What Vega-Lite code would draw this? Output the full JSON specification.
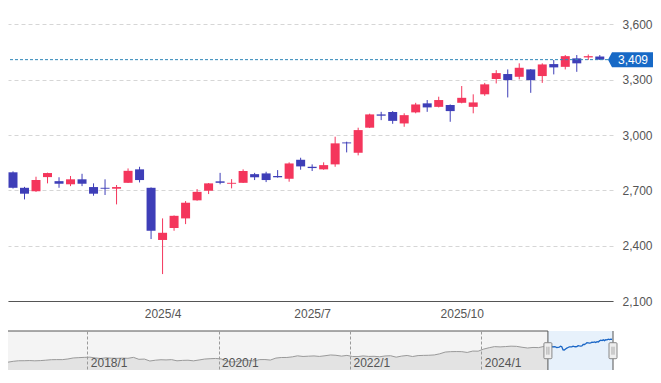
{
  "$schema": "https://vega.github.io/schema/vega-lite/v6.json",
  "padding": {"left": 7, "top": 6, "right": 0, "bottom": 0},
  "background": "white",
  "spacing": 11,
  "config": {
    "view": {"stroke": null},
    "font": "Liberation Sans",
    "axis": {"labelFont": "Liberation Sans", "labelFontSize": 12, "labelColor": "#555555", "title": null},
    "text": {"font": "Liberation Sans"}
  },
  "datasets": {
    "weekly": [
      {"date":"2025-01-06","open":2798,"high":2803,"low":2710,"close":2714},
      {"date":"2025-01-13","open":2714,"high":2719,"low":2651,"close":2682},
      {"date":"2025-01-20","open":2695,"high":2774,"low":2692,"close":2756},
      {"date":"2025-01-27","open":2772,"high":2796,"low":2738,"close":2794},
      {"date":"2025-02-03","open":2750,"high":2771,"low":2714,"close":2736},
      {"date":"2025-02-10","open":2733,"high":2778,"low":2723,"close":2760},
      {"date":"2025-02-17","open":2760,"high":2790,"low":2723,"close":2736},
      {"date":"2025-02-24","open":2718,"high":2738,"low":2671,"close":2682},
      {"date":"2025-03-03","open":2714,"high":2760,"low":2675,"close":2709},
      {"date":"2025-03-10","open":2709,"high":2729,"low":2624,"close":2718},
      {"date":"2025-03-17","open":2741,"high":2819,"low":2740,"close":2806},
      {"date":"2025-03-24","open":2814,"high":2828,"low":2743,"close":2756},
      {"date":"2025-03-31","open":2714,"high":2716,"low":2436,"close":2481},
      {"date":"2025-04-07","open":2431,"high":2548,"low":2246,"close":2470},
      {"date":"2025-04-14","open":2496,"high":2564,"low":2481,"close":2562},
      {"date":"2025-04-21","open":2548,"high":2642,"low":2517,"close":2633},
      {"date":"2025-04-28","open":2646,"high":2707,"low":2644,"close":2692},
      {"date":"2025-05-05","open":2698,"high":2740,"low":2680,"close":2738},
      {"date":"2025-05-12","open":2749,"high":2795,"low":2733,"close":2741},
      {"date":"2025-05-19","open":2736,"high":2761,"low":2711,"close":2741},
      {"date":"2025-05-26","open":2741,"high":2814,"low":2740,"close":2805},
      {"date":"2025-06-02","open":2788,"high":2795,"low":2756,"close":2771},
      {"date":"2025-06-09","open":2792,"high":2801,"low":2745,"close":2756},
      {"date":"2025-06-16","open":2778,"high":2810,"low":2769,"close":2771},
      {"date":"2025-06-23","open":2763,"high":2852,"low":2747,"close":2846},
      {"date":"2025-06-30","open":2866,"high":2877,"low":2812,"close":2830},
      {"date":"2025-07-07","open":2828,"high":2841,"low":2805,"close":2821},
      {"date":"2025-07-14","open":2814,"high":2852,"low":2812,"close":2837},
      {"date":"2025-07-21","open":2841,"high":2991,"low":2828,"close":2955},
      {"date":"2025-07-28","open":2960,"high":2964,"low":2906,"close":2955},
      {"date":"2025-08-04","open":2904,"high":3040,"low":2890,"close":3027},
      {"date":"2025-08-11","open":3040,"high":3116,"low":3038,"close":3112},
      {"date":"2025-08-18","open":3112,"high":3126,"low":3081,"close":3105},
      {"date":"2025-08-25","open":3125,"high":3130,"low":3061,"close":3077},
      {"date":"2025-09-01","open":3063,"high":3118,"low":3045,"close":3108},
      {"date":"2025-09-08","open":3123,"high":3175,"low":3118,"close":3166},
      {"date":"2025-09-15","open":3172,"high":3190,"low":3126,"close":3150},
      {"date":"2025-09-22","open":3153,"high":3208,"low":3150,"close":3190},
      {"date":"2025-09-29","open":3163,"high":3166,"low":3072,"close":3130},
      {"date":"2025-10-06","open":3175,"high":3266,"low":3172,"close":3202},
      {"date":"2025-10-13","open":3153,"high":3221,"low":3118,"close":3177},
      {"date":"2025-10-20","open":3221,"high":3283,"low":3213,"close":3275},
      {"date":"2025-10-27","open":3304,"high":3352,"low":3280,"close":3336},
      {"date":"2025-11-03","open":3331,"high":3356,"low":3204,"close":3298},
      {"date":"2025-11-10","open":3316,"high":3389,"low":3302,"close":3365},
      {"date":"2025-11-17","open":3356,"high":3358,"low":3229,"close":3298},
      {"date":"2025-11-24","open":3320,"high":3389,"low":3283,"close":3383},
      {"date":"2025-12-01","open":3385,"high":3407,"low":3329,"close":3367},
      {"date":"2025-12-08","open":3370,"high":3434,"low":3356,"close":3428},
      {"date":"2025-12-15","open":3416,"high":3434,"low":3343,"close":3389},
      {"date":"2025-12-22","open":3421,"high":3437,"low":3407,"close":3428},
      {"date":"2025-12-29","open":3426,"high":3434,"low":3408,"close":3409}
    ],
    "history": [
      {"date":"2016-10-17","close":1393},{"date":"2016-11-15","close":1469},{"date":"2016-12-15","close":1518},
      {"date":"2017-01-15","close":1521},{"date":"2017-02-15","close":1535},{"date":"2017-03-15","close":1512},
      {"date":"2017-04-15","close":1531},{"date":"2017-05-15","close":1568},{"date":"2017-06-15","close":1611},
      {"date":"2017-07-15","close":1618},{"date":"2017-08-15","close":1617},{"date":"2017-09-15","close":1675},
      {"date":"2017-10-15","close":1765},{"date":"2017-11-15","close":1792},{"date":"2017-12-15","close":1817},
      {"date":"2018-01-15","close":1836},{"date":"2018-02-15","close":1768},{"date":"2018-03-15","close":1716},
      {"date":"2018-04-15","close":1777},{"date":"2018-05-15","close":1747},{"date":"2018-06-15","close":1730},
      {"date":"2018-07-15","close":1753},{"date":"2018-08-15","close":1735},{"date":"2018-09-15","close":1817},
      {"date":"2018-10-15","close":1646},{"date":"2018-11-15","close":1667},{"date":"2018-12-15","close":1494},
      {"date":"2019-01-15","close":1567},{"date":"2019-02-15","close":1607},{"date":"2019-03-15","close":1591},
      {"date":"2019-04-15","close":1617},{"date":"2019-05-15","close":1512},{"date":"2019-06-15","close":1551},
      {"date":"2019-07-15","close":1565},{"date":"2019-08-15","close":1511},{"date":"2019-09-15","close":1587},
      {"date":"2019-10-15","close":1667},{"date":"2019-11-15","close":1699},{"date":"2019-12-15","close":1721},
      {"date":"2020-01-15","close":1684},{"date":"2020-02-15","close":1511},{"date":"2020-03-15","close":1403},
      {"date":"2020-04-15","close":1464},{"date":"2020-05-15","close":1564},{"date":"2020-06-15","close":1558},
      {"date":"2020-07-15","close":1496},{"date":"2020-08-15","close":1618},{"date":"2020-09-15","close":1625},
      {"date":"2020-10-15","close":1579},{"date":"2020-11-15","close":1754},{"date":"2020-12-15","close":1805},
      {"date":"2021-01-15","close":1808},{"date":"2021-02-15","close":1864},{"date":"2021-03-15","close":1954},
      {"date":"2021-04-15","close":1898},{"date":"2021-05-15","close":1922},{"date":"2021-06-15","close":1944},
      {"date":"2021-07-15","close":1901},{"date":"2021-08-15","close":1960},{"date":"2021-09-15","close":2030},
      {"date":"2021-10-15","close":2001},{"date":"2021-11-15","close":1928},{"date":"2021-12-15","close":1992},
      {"date":"2022-01-15","close":1896},{"date":"2022-02-15","close":1886},{"date":"2022-03-15","close":1946},
      {"date":"2022-04-15","close":1899},{"date":"2022-05-15","close":1912},{"date":"2022-06-15","close":1871},
      {"date":"2022-07-15","close":1940},{"date":"2022-08-15","close":1963},{"date":"2022-09-15","close":1835},
      {"date":"2022-10-15","close":1929},{"date":"2022-11-15","close":1985},{"date":"2022-12-15","close":1892},
      {"date":"2023-01-15","close":1975},{"date":"2023-02-15","close":1993},{"date":"2023-03-15","close":2003},
      {"date":"2023-04-15","close":2033},{"date":"2023-05-15","close":2131},{"date":"2023-06-15","close":2288},
      {"date":"2023-07-15","close":2322},{"date":"2023-08-15","close":2332},{"date":"2023-09-15","close":2323},
      {"date":"2023-10-15","close":2253},{"date":"2023-11-15","close":2374},{"date":"2023-12-15","close":2366},
      {"date":"2024-01-15","close":2551},{"date":"2024-02-15","close":2675},{"date":"2024-03-15","close":2769},
      {"date":"2024-04-15","close":2743},{"date":"2024-05-15","close":2772},{"date":"2024-06-15","close":2809},
      {"date":"2024-07-15","close":2794},{"date":"2024-08-15","close":2712},{"date":"2024-09-15","close":2645},
      {"date":"2024-10-15","close":2695},{"date":"2024-11-15","close":2680},{"date":"2024-12-15","close":2785},
      {"date":"2025-01-06","close":2714}
    ],
    "price": [{"date":"2026-01-03","price":3409}],
    "handles": [{"date":"2025-01-06","pos":2407},{"date":"2026-01-03","pos":2407}]
  },
  "vconcat": [
    {
      "width": 605,
      "height": 295,
      "layer": [
        {
          "data": {"name": "weekly"},
          "mark": {"type": "rule", "clip": true, "strokeWidth": 1},
          "encoding": {
            "x": {
              "field": "date", "type": "temporal",
              "scale": {"type": "utc", "domain": [{"year": 2025, "month": 1, "date": 6, "utc": true}, {"year": 2026, "month": 1, "date": 3, "utc": true}]},
              "axis": {
                "values": [{"year": 2025, "month": 4, "date": 7, "utc": true}, {"year": 2025, "month": 7, "date": 7, "utc": true}, {"year": 2025, "month": 10, "date": 6, "utc": true}],
                "format": "%Y/%-m", "grid": false, "ticks": false, "tickSize": 0,
                "domainColor": "#555555", "domainWidth": 1, "labelPadding": 7, "labelFlush": false
              }
            },
            "y": {
              "field": "low", "type": "quantitative",
              "scale": {"domain": [2100, 3700], "zero": false, "nice": false},
              "axis": {
                "orient": "right", "values": [2100, 2400, 2700, 3000, 3300, 3600], "format": ",d",
                "grid": true, "gridDash": [4, 3], "gridColor": "#d6d6d6", "domain": false, "ticks": false,
                "labelPadding": 9
              }
            },
            "y2": {"field": "high"},
            "color": {"condition": {"test": "datum.close >= datum.open", "value": "#f4365c"}, "value": "#3e3eb8"}
          }
        },
        {
          "data": {"name": "weekly"},
          "mark": {"type": "bar", "clip": true, "size": 9},
          "encoding": {
            "x": {"field": "date", "type": "temporal"},
            "y": {"field": "open", "type": "quantitative"},
            "y2": {"field": "close"},
            "color": {"condition": {"test": "datum.close >= datum.open", "value": "#f4365c"}, "value": "#3e3eb8"}
          }
        },
        {
          "data": {"name": "price"},
          "mark": {"type": "rule", "strokeDash": [3, 2], "color": "#2f86b8", "strokeWidth": 1},
          "encoding": {"y": {"field": "price", "type": "quantitative"}}
        },
        {
          "data": {"name": "price"},
          "mark": {"type": "point", "shape": "M 0 0 L 4 -7.5 L 45 -7.5 L 45 7.5 L 4 7.5 Z", "size": 4, "filled": true, "color": "#1769c6", "opacity": 1},
          "encoding": {
            "x": {"field": "date", "type": "temporal"},
            "y": {"field": "price", "type": "quantitative"}
          }
        },
        {
          "data": {"name": "price"},
          "mark": {"type": "text", "color": "white", "align": "left", "baseline": "middle", "dx": 10, "fontSize": 12},
          "encoding": {
            "x": {"field": "date", "type": "temporal"},
            "y": {"field": "price", "type": "quantitative"},
            "text": {"field": "price", "type": "quantitative", "format": ",d"}
          }
        }
      ]
    },
    {
      "width": 605,
      "height": 39,
      "layer": [
        {
          "data": {"values": [{"start": "2016-10-17", "end": "2025-01-06"}]},
          "mark": {"type": "rect", "color": "#f4f4f4"},
          "encoding": {
            "x": {
              "field": "start", "type": "temporal",
              "scale": {"type": "utc", "domain": [{"year": 2016, "month": 10, "date": 17, "utc": true}, {"year": 2026, "month": 1, "date": 3, "utc": true}]},
              "axis": {
                "values": [{"year": 2018, "month": 1, "date": 1, "utc": true}, {"year": 2020, "month": 1, "date": 1, "utc": true}, {"year": 2022, "month": 1, "date": 1, "utc": true}, {"year": 2024, "month": 1, "date": 1, "utc": true}],
                "format": "%Y/%-m", "grid": true, "gridDash": [3, 2], "gridColor": "#9a9a9a", "gridWidth": 1,
                "domain": false, "ticks": false, "tickSize": 0, "labelAlign": "left", "labelOffset": 3,
                "labelBaseline": "middle", "labelPadding": -8, "labelFlush": false, "zindex": 1
              }
            },
            "x2": {"field": "end"}
          }
        },
        {
          "data": {"name": "history"},
          "mark": {"type": "area", "color": "#e3e3e3", "clip": true},
          "encoding": {
            "x": {"field": "date", "type": "temporal"},
            "y": {"field": "close", "type": "quantitative", "scale": {"domain": [700, 4150], "zero": false, "nice": false}, "axis": null},
            "y2": {"datum": 700}
          }
        },
        {
          "data": {"name": "history"},
          "mark": {"type": "line", "color": "#9a9a9a", "strokeWidth": 1, "clip": true},
          "encoding": {
            "x": {"field": "date", "type": "temporal"},
            "y": {"field": "close", "type": "quantitative"}
          }
        },
        {
          "data": {"values": [{"start": "2025-01-06", "end": "2026-01-03"}]},
          "mark": {"type": "rect", "color": "#e7f1fb"},
          "encoding": {
            "x": {"field": "start", "type": "temporal"},
            "x2": {"field": "end"}
          }
        },
        {
          "data": {"name": "weekly"},
          "mark": {"type": "line", "color": "#1a66c6", "strokeWidth": 1.3},
          "encoding": {
            "x": {"field": "date", "type": "temporal"},
            "y": {"field": "close", "type": "quantitative"}
          }
        },
        {
          "data": {"values": [{"start": "2016-10-17", "end": "2025-01-06", "top": 4150}]},
          "mark": {"type": "rule", "color": "#555555", "strokeWidth": 1},
          "encoding": {
            "x": {"field": "start", "type": "temporal"},
            "x2": {"field": "end"},
            "y": {"field": "top", "type": "quantitative"}
          }
        },
        {
          "data": {"name": "handles"},
          "mark": {"type": "rule", "color": "#555555", "strokeWidth": 1},
          "encoding": {
            "x": {"field": "date", "type": "temporal"}
          }
        },
        {
          "data": {"name": "handles"},
          "mark": {"type": "point", "shape": "M -3 -8 L 3 -8 Q 4 -8 4 -7 L 4 7 Q 4 8 3 8 L -3 8 Q -4 8 -4 7 L -4 -7 Q -4 -8 -3 -8 Z", "size": 4, "filled": true, "color": "#eeeeee", "stroke": "#888888", "strokeWidth": 1, "opacity": 1},
          "encoding": {
            "x": {"field": "date", "type": "temporal"},
            "y": {"field": "pos", "type": "quantitative"}
          }
        },
        {
          "data": {"name": "handles"},
          "mark": {"type": "point", "shape": "M -1 -4 L -1 4 M 1 -4 L 1 4", "size": 4, "filled": false, "stroke": "#aaaaaa", "strokeWidth": 1, "opacity": 1},
          "encoding": {
            "x": {"field": "date", "type": "temporal"},
            "y": {"field": "pos", "type": "quantitative"}
          }
        }
      ]
    }
  ]
}
